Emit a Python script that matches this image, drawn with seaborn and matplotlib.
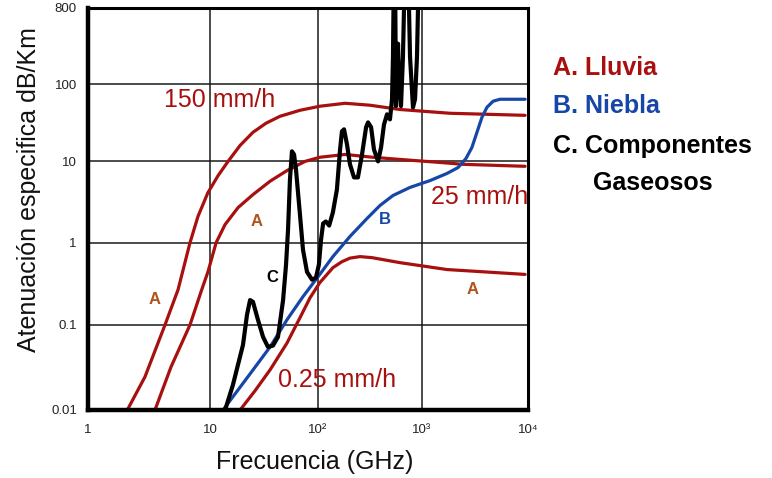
import numpy as np
import pandas as pd
import matplotlib
matplotlib.use("Agg")
import matplotlib.pyplot as plt
import seaborn as sns

# Specific attenuation (dB/km) versus frequency (GHz)
rain_150_f = [2.1, 2.93, 4.28, 5.47, 6.86, 7.97, 9.6, 11.9, 14.7, 19.0, 25.0, 33.0, 44.5, 68.1,
              104, 182, 316, 614, 1840, 9380]
rain_150_a = [0.01, 0.0245, 0.1, 0.267, 1.0, 2.1, 4.1, 6.7, 10, 16.1, 23.8, 31.2, 38.4, 45.9,
              51.8, 56.6, 53.4, 47, 42, 39.5]

rain_25_f = [3.54, 4.79, 6.86, 8.44, 9.63, 11.4, 13.8, 18.2, 25, 36, 51.6, 75.9, 104, 182, 338,
             614, 1480, 2440, 9380]
rain_25_a = [0.01, 0.032, 0.1, 0.252, 0.443, 1.0, 1.67, 2.7, 3.9, 5.7, 7.7, 10, 11.3, 12.3, 11.3,
             10.6, 9.7, 9.2, 8.7]

rain_025_f = [19.0, 26.1, 36, 51.6, 68.1, 84.4, 104, 139, 170, 203, 253, 330, 614, 957, 1720, 9380]
rain_025_a = [0.01, 0.0168, 0.0296, 0.061, 0.122, 0.213, 0.325, 0.495, 0.586, 0.647, 0.675, 0.656,
              0.57, 0.525, 0.47, 0.41]

fog_f = [13.2, 25, 36, 51.6, 72.6, 104, 139, 203, 296, 394, 526, 767, 1190, 1720, 2190, 2600,
         2960, 3300, 3680, 4100, 4680, 5440, 9380]
fog_a = [0.01, 0.0295, 0.055, 0.115, 0.22, 0.41, 0.675, 1.19, 1.98, 2.86, 3.8, 4.78, 5.8, 7.1, 8.4,
         10.9, 15.2, 23.8, 37.3, 50.2, 60.1, 63.8, 63.8]

gas_f = [13.8, 16.3, 20.2, 22.0, 23.5, 25.0, 27.8, 31.0, 34.4, 38.3, 42.6, 47.5, 50.6, 52.8, 55.0,
         57.4, 60.0, 62.5, 68.1, 72.6, 79.1, 88.0, 95.8, 102, 107, 112, 119, 128, 139, 152, 163,
         170, 178, 190, 203, 222, 242, 265, 290, 303, 324, 345, 378, 404, 431, 461, 492, 515, 526,
         538, 550, 562, 575, 588, 601, 628, 656, 687, 733, 767, 819, 857, 895, 936]
gas_a = [0.01, 0.0197, 0.058, 0.132, 0.2, 0.19, 0.115, 0.072, 0.055, 0.057, 0.072, 0.2, 0.54, 1.45, 6.0,
         13.5, 12.3, 8.0, 2.2, 0.82, 0.44, 0.354, 0.374, 0.54, 1.09, 1.72, 1.82, 1.62, 2.35, 4.5, 14.3,
         24.5, 26, 16.6, 9.2, 6.35, 6.35, 12.3, 27.7, 32, 27.7, 14.3, 10, 15.2, 30, 40.7, 35, 64, 211,
         3000, 3000, 52, 116, 302, 116, 52, 211, 3000, 3000, 211, 50, 64, 211, 3000]

y_ticks = [0.01, 0.1, 1, 10, 100, 800]
y_tick_labels = ["0.01", "0.1", "1", "10", "100", "800"]
x_ticks = [1, 10, 100, 1000, 10000]
x_tick_labels = ["1", "10", "10²", "10³", "10⁴"]

RED = "#A8100F"
BLUE = "#1747A6"
ORANGE = "#B0531C"

# Hand-drawn log axes: each decade has its own width (in pixels)
X_DECADES = [0, 1, 2, 3, 4]
X_WIDTHS = [0, 122, 230, 334, 440]
Y_DECADES = [-2, -1, 0, 1, 2, np.log10(800)]
Y_WIDTHS = [0, 85, 167, 248, 325, 401]


def decade_scale(decades, widths):
    kl = np.asarray(decades, float)
    kp = np.asarray(widths, float)
    s0 = (kp[1] - kp[0]) / (kl[1] - kl[0])
    s1 = (kp[-1] - kp[-2]) / (kl[-1] - kl[-2])

    def fwd(v):
        l = np.log10(np.clip(np.asarray(v, float), 1e-12, None))
        out = np.interp(l, kl, kp)
        out = np.where(l < kl[0], kp[0] + (l - kl[0]) * s0, out)
        out = np.where(l > kl[-1], kp[-1] + (l - kl[-1]) * s1, out)
        return out

    def inv(p):
        p = np.asarray(p, float)
        l = np.interp(p, kp, kl)
        l = np.where(p < kp[0], kl[0] + (p - kp[0]) / s0, l)
        l = np.where(p > kp[-1], kl[-1] + (p - kp[-1]) / s1, l)
        return 10.0 ** l

    return fwd, inv


sns.set_theme(style="white")
plt.rcParams["font.family"] = ["Liberation Sans", "DejaVu Sans"]

W, H = 772, 478
fig = plt.figure(figsize=(W / 100, H / 100), dpi=100)
ax = fig.add_axes([88 / W, 1 - 410 / H, 440 / W, 402 / H])

curves = [
    (rain_150_f, rain_150_a, RED, 2.3),
    (rain_25_f, rain_25_a, RED, 2.3),
    (rain_025_f, rain_025_a, RED, 2.3),
    (fog_f, fog_a, BLUE, 2.3),
    (gas_f, gas_a, "black", 3.0),
]
for f, a, color, lw in curves:
    df = pd.DataFrame({"f": f, "a": a})
    sns.lineplot(data=df, x="f", y="a", ax=ax, color=color, linewidth=lw,
                 sort=False, estimator=None, solid_joinstyle="round",
                 solid_capstyle="round", zorder=3)

ax.set_xscale("function", functions=decade_scale(X_DECADES, X_WIDTHS))
ax.set_yscale("function", functions=decade_scale(Y_DECADES, Y_WIDTHS))
ax.set_xlim(1, 10000)
ax.set_ylim(0.01, 800)
ax.set_xticks(x_ticks)
ax.set_xticklabels(x_tick_labels)
ax.set_yticks(y_ticks)
ax.set_yticklabels(y_tick_labels)
ax.minorticks_off()
ax.tick_params(axis="both", length=0, labelsize=9.5, labelcolor="#222222")
ax.tick_params(axis="x", pad=10)
ax.tick_params(axis="y", pad=8)
ax.set_xlabel("")
ax.set_ylabel("")

for v in [10, 100, 1000]:
    ax.axvline(v, color="#1a1a1a", lw=1.1, zorder=1)
for v in [0.1, 1, 10, 100]:
    ax.axhline(v, color="#1a1a1a", lw=1.1, zorder=1)

for side in ["left", "bottom"]:
    ax.spines[side].set_linewidth(3.2)
    ax.spines[side].set_color("black")
for side in ["top", "right"]:
    ax.spines[side].set_linewidth(2.2)
    ax.spines[side].set_color("black")
for s in ax.spines.values():
    s.set_zorder(5)


def ftext(px, py, s, **kw):
    fig.text(px / W, 1 - py / H, s, **kw)


ftext(315, 462, "Frecuencia (GHz)", fontsize=18, ha="center", va="center", color="#111111")
ftext(29, 190, "Atenuación especifica dB/Km", fontsize=18, ha="center", va="center",
      rotation=90, color="#111111")

ftext(220, 100, "150 mm/h", fontsize=18, ha="center", va="center", color=RED)
ftext(480, 197, "25 mm/h", fontsize=18, ha="center", va="center", color=RED)
ftext(337, 380, "0.25 mm/h", fontsize=18, ha="center", va="center", color=RED)

for px, py in [(155, 300), (257, 222), (473, 290)]:
    ftext(px, py, "A", fontsize=12, fontweight="bold", ha="center", va="center", color=ORANGE)
ftext(385, 220, "B", fontsize=12, fontweight="bold", ha="center", va="center", color=BLUE)
ftext(272, 277, "C", fontsize=12, fontweight="bold", ha="center", va="center", color="black")

ftext(553, 68, "A. Lluvia", fontsize=18, fontweight="bold", ha="left", va="center", color=RED)
ftext(553, 106, "B. Niebla", fontsize=18, fontweight="bold", ha="left", va="center", color=BLUE)
ftext(553, 146, "C. Componentes", fontsize=18, fontweight="bold", ha="left", va="center", color="black")
ftext(593, 183, "Gaseosos", fontsize=18, fontweight="bold", ha="left", va="center", color="black")

fig.savefig("out.png", dpi=100)
